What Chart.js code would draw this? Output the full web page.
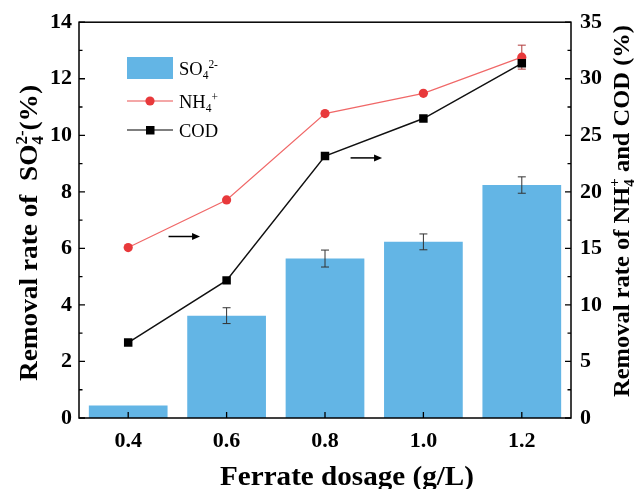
<!DOCTYPE html>
<html><head><meta charset="utf-8">
<script src="https://cdn.jsdelivr.net/npm/chart.js@4.4.1/dist/chart.umd.min.js"></script>
<style>html,body{margin:0;padding:0;background:#fff}#wrap{width:638px;height:489px}</style>
</head><body><div id="wrap"><canvas id="c" width="638" height="489"></canvas></div>
<script>
// ---- data ----
const categories = ['0.4', '0.6', '0.8', '1.0', '1.2'];
const so4Values = [0.44, 3.62, 5.64, 6.23, 8.24];
const so4Errors = [0, 0.28, 0.30, 0.28, 0.29];
const nh4Values = [15.07, 19.28, 26.92, 28.71, 31.91];
const nh4Errors = [0, 0, 0, 0, 1.06];
const codValues = [6.67, 12.17, 23.16, 26.48, 31.36];
const leftTicks = [0, 2, 4, 6, 8, 10, 12, 14];
const rightTicks = [0, 5, 10, 15, 20, 25, 30, 35];
// arrows: category-index span and value on right axis
const arrowFrom = [0.41, 2.26];
const arrowTo = [0.73, 2.58];
const arrowValue = [16.05, 23.0];

const BAR_COLOR = '#63b5e5';
const FONT = '"Liberation Serif", "Times New Roman", serif';

function fnt(size, bold) { return (bold ? 'bold ' : '') + size + 'px ' + FONT; }

// rich text: parts = [{t}|{sub,sup,stack}]
function measureRich(ctx, parts, size, bold) {
  let w = 0; const small = size * 0.62;
  parts.forEach(p => {
    if (p.t !== undefined) { ctx.font = fnt(size, bold); p._w = ctx.measureText(p.t).width; }
    else {
      ctx.font = fnt(small, bold);
      const ws = p.sub ? ctx.measureText(p.sub).width : 0;
      const wp = p.sup ? ctx.measureText(p.sup).width : 0;
      p._w = p.stack ? Math.max(ws, wp) : ws + wp;
      p._ws = ws;
    }
    w += p._w;
  });
  return w;
}
function drawRich(ctx, parts, size, bold, x0) {
  const small = size * 0.62; let x = x0;
  ctx.textBaseline = 'alphabetic'; ctx.textAlign = 'left';
  parts.forEach(p => {
    if (p.t !== undefined) { ctx.font = fnt(size, bold); ctx.fillText(p.t, x, 0); }
    else {
      ctx.font = fnt(small, bold);
      if (p.stack) {
        if (p.sup) ctx.fillText(p.sup, x, -size * 0.40);
        if (p.sub) ctx.fillText(p.sub, x, size * 0.22);
      } else {
        if (p.sub) ctx.fillText(p.sub, x, size * 0.22);
        if (p.sup) ctx.fillText(p.sup, x + p._ws, -size * 0.40);
      }
    }
    x += p._w;
  });
}
function drawTitle(ctx, parts, size, bold, cx, cy, rot, targetLen) {
  ctx.save();
  ctx.translate(cx, cy);
  if (rot) ctx.rotate(rot);
  const w = measureRich(ctx, parts, size, bold);
  const sx = targetLen ? targetLen / w : 1;
  ctx.scale(sx, 1);
  ctx.fillStyle = '#000';
  drawRich(ctx, parts, size, bold, -w / 2);
  ctx.restore();
}

const decor = {
  id: 'decor',
  beforeDatasetsDraw(chart) {
    const ctx = chart.ctx, y1 = chart.scales.y1;
    const meta = chart.getDatasetMeta(1);
    ctx.save();
    ctx.strokeStyle = '#b03a3a'; ctx.lineWidth = 1;
    nh4Values.forEach((v, i) => {
      const e = nh4Errors[i]; if (!e) return;
      const x = meta.data[i].x, ya = y1.getPixelForValue(v + e), yb = y1.getPixelForValue(v - e);
      ctx.beginPath();
      ctx.moveTo(x, ya); ctx.lineTo(x, yb);
      ctx.moveTo(x - 4, ya); ctx.lineTo(x + 4, ya);
      ctx.moveTo(x - 4, yb); ctx.lineTo(x + 4, yb);
      ctx.stroke();
    });
    ctx.restore();
  },
  afterDatasetsDraw(chart) {
    const ctx = chart.ctx, a = chart.chartArea;
    const xs = chart.scales.x, y = chart.scales.y, y1 = chart.scales.y1;
    const barMeta = chart.getDatasetMeta(2);
    ctx.save();
    // bar error bars
    ctx.strokeStyle = '#333'; ctx.lineWidth = 1;
    so4Values.forEach((v, i) => {
      const e = so4Errors[i]; if (!e) return;
      const x = barMeta.data[i].x, ya = y.getPixelForValue(v + e), yb = y.getPixelForValue(v - e);
      ctx.beginPath();
      ctx.moveTo(x, ya); ctx.lineTo(x, yb);
      ctx.moveTo(x - 4, ya); ctx.lineTo(x + 4, ya);
      ctx.moveTo(x - 4, yb); ctx.lineTo(x + 4, yb);
      ctx.stroke();
    });
    // frame
    ctx.strokeStyle = '#000'; ctx.lineWidth = 1.5;
    ctx.strokeRect(a.left, a.top, a.right - a.left, a.bottom - a.top);
    // ticks (inward)
    ctx.lineWidth = 1.3;
    ctx.beginPath();
    leftTicks.forEach((v, i) => {
      const py = y.getPixelForValue(v);
      ctx.moveTo(a.left, py); ctx.lineTo(a.left + 6, py);
      if (i < leftTicks.length - 1) {
        const pm = y.getPixelForValue((v + leftTicks[i + 1]) / 2);
        ctx.moveTo(a.left, pm); ctx.lineTo(a.left + 3.5, pm);
      }
    });
    rightTicks.forEach((v, i) => {
      const py = y1.getPixelForValue(v);
      ctx.moveTo(a.right, py); ctx.lineTo(a.right - 6, py);
      if (i < rightTicks.length - 1) {
        const pm = y1.getPixelForValue((v + rightTicks[i + 1]) / 2);
        ctx.moveTo(a.right, pm); ctx.lineTo(a.right - 3.5, pm);
      }
    });
    categories.forEach((c, i) => {
      const px = xs.getPixelForValue(i);
      ctx.moveTo(px, a.bottom); ctx.lineTo(px, a.bottom - 6);
    });
    ctx.stroke();
    // arrows
    ctx.lineWidth = 1.5; ctx.fillStyle = '#000';
    arrowValue.forEach((v, i) => {
      const x0 = xs.getPixelForValue(arrowFrom[i]);
      const x1 = xs.getPixelForValue(arrowTo[i]);
      const py = y1.getPixelForValue(v);
      ctx.beginPath(); ctx.moveTo(x0, py); ctx.lineTo(x1 - 6, py); ctx.stroke();
      ctx.beginPath(); ctx.moveTo(x1, py); ctx.lineTo(x1 - 8, py - 3.5); ctx.lineTo(x1 - 8, py + 3.5); ctx.closePath(); ctx.fill();
    });
    ctx.restore();
  },
  afterDraw(chart) {
    const ctx = chart.ctx;
    ctx.save();
    // legend
    ctx.fillStyle = BAR_COLOR;
    ctx.fillRect(127, 57, 46, 22);
    ctx.strokeStyle = '#f08a8a'; ctx.lineWidth = 1.5;
    ctx.beginPath(); ctx.moveTo(127, 101); ctx.lineTo(173, 101); ctx.stroke();
    ctx.fillStyle = '#e8393b';
    ctx.beginPath(); ctx.arc(150, 101, 4.6, 0, Math.PI * 2); ctx.fill();
    ctx.strokeStyle = '#555';
    ctx.beginPath(); ctx.moveTo(127, 130); ctx.lineTo(173, 130); ctx.stroke();
    ctx.fillStyle = '#000';
    ctx.fillRect(146, 126, 8.5, 8.5);
    const lg = [
      {parts: [{t: 'SO'}, {sub: '4', sup: '2-'}], y: 75},
      {parts: [{t: 'NH'}, {sub: '4', sup: '+'}], y: 108},
      {parts: [{t: 'COD'}], y: 137}
    ];
    lg.forEach(item => {
      ctx.save(); ctx.translate(179, item.y); ctx.fillStyle = '#000';
      measureRich(ctx, item.parts, 18.5, false);
      drawRich(ctx, item.parts, 18.5, false, 0);
      ctx.restore();
    });
    ctx.restore();
    // axis titles
    drawTitle(ctx, [{t: 'Removal rate of  SO'}, {stack: true, sup: '2-', sub: '4'}, {t: '(%)'}], 26, true, 37, 233, -Math.PI / 2, 296);
    drawTitle(ctx, [{t: 'Removal rate of NH'}, {stack: true, sup: '+', sub: '4'}, {t: ' and COD (%)'}], 24, true, 629, 211, -Math.PI / 2, 372);
    drawTitle(ctx, [{t: 'Ferrate dosage (g/L)'}], 27, true, 347, 485, 0, 254);
  }
};

Chart.defaults.font.family = FONT;
Chart.defaults.color = '#000';

new Chart(document.getElementById('c'), {
  data: {
    labels: categories,
    datasets: [
      {type: 'line', label: 'COD', data: codValues, yAxisID: 'y1', borderColor: '#111', borderWidth: 1.5,
        pointStyle: 'rect', pointRadius: 6, pointBackgroundColor: '#000', pointBorderColor: '#000', pointBorderWidth: 0, order: 1, tension: 0},
      {type: 'line', label: 'NH4+', data: nh4Values, yAxisID: 'y1', borderColor: '#f06868', borderWidth: 1.2,
        pointStyle: 'circle', pointRadius: 4.6, pointBackgroundColor: '#e8393b', pointBorderColor: '#e8393b', pointBorderWidth: 0, order: 2, tension: 0},
      {type: 'bar', label: 'SO4 2-', data: so4Values, yAxisID: 'y', backgroundColor: BAR_COLOR,
        barPercentage: 0.8, categoryPercentage: 1.0, order: 3}
    ]
  },
  options: {
    responsive: false, animation: false, devicePixelRatio: 1,
    layout: {padding: {top: 21, left: 0, right: 0, bottom: 0}},
    plugins: {legend: {display: false}, tooltip: {enabled: false}},
    scales: {
      x: {type: 'category', offset: true,
        grid: {display: false, drawTicks: false}, border: {display: false},
        ticks: {color: '#000', font: {size: 22, weight: 'bold'}, padding: 10, maxRotation: 0, autoSkip: false},
        afterFit: s => { s.height = 71; }},
      y: {position: 'left', min: 0, max: 14,
        grid: {display: false, drawTicks: false}, border: {display: false},
        ticks: {color: '#000', font: {size: 22, weight: 'bold'}, padding: 7},
        afterBuildTicks: s => { s.ticks = leftTicks.map(v => ({value: v})); },
        afterFit: s => { s.width = 79; }},
      y1: {position: 'right', min: 0, max: 35,
        grid: {display: false, drawTicks: false}, border: {display: false},
        ticks: {color: '#000', font: {size: 22, weight: 'bold'}, padding: 9},
        afterBuildTicks: s => { s.ticks = rightTicks.map(v => ({value: v})); },
        afterFit: s => { s.width = 67; }}
    }
  },
  plugins: [decor]
});
</script>
</body></html>
